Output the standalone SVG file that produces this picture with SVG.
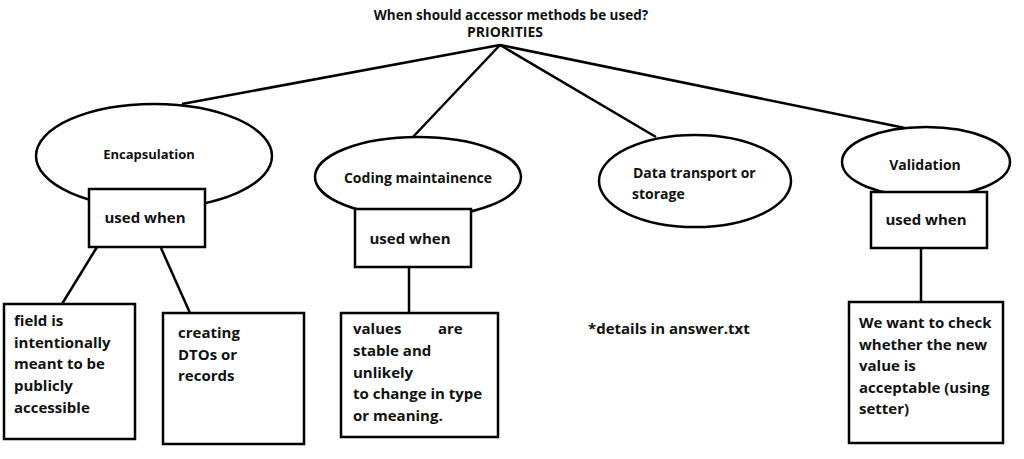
<svg xmlns="http://www.w3.org/2000/svg" width="1024" height="459" viewBox="0 0 1024 459">
<style>
.t{font-family:"Open Sans","Liberation Sans",sans-serif;font-weight:bold;fill:#111;}
.s{fill:#fff;stroke:#000;stroke-width:2.5;}
.c{stroke:#000;stroke-width:2.5;fill:none;}
</style>
<rect width="1024" height="459" fill="#fff"/>
<g id="title">
<text class="t" x="511" y="20" font-size="13.5" text-anchor="middle">When should accessor methods be used?</text>
<text class="t" x="505" y="37" font-size="14" text-anchor="middle">PRIORITIES</text>
</g>
<g id="connectors">
<line class="c" x1="500" y1="45" x2="182" y2="104"/>
<line class="c" x1="500" y1="45" x2="412" y2="138"/>
<line class="c" x1="500" y1="45" x2="656" y2="137"/>
<line class="c" x1="500" y1="45" x2="905" y2="128"/>
<line class="c" x1="97" y1="247" x2="62" y2="304"/>
<line class="c" x1="161" y1="248" x2="190" y2="313"/>
<line class="c" x1="409" y1="267" x2="409" y2="313"/>
<line class="c" x1="921" y1="248" x2="921" y2="302"/>
</g>
<g id="encapsulation">
<ellipse class="s" cx="154" cy="156" rx="118" ry="52"/>
<text class="t" x="149" y="159" font-size="13" text-anchor="middle">Encapsulation</text>
</g>
<g id="encap-used">
<rect class="s" x="89" y="189" width="116" height="58"/>
<text class="t" x="145" y="223" font-size="15" text-anchor="middle">used when</text>
</g>
<g id="coding">
<ellipse class="s" cx="418" cy="177" rx="103" ry="40"/>
<text class="t" x="418" y="183" font-size="14" text-anchor="middle">Coding maintainence</text>
</g>
<g id="coding-used">
<rect class="s" x="355" y="209" width="116" height="58"/>
<text class="t" x="410" y="244" font-size="15" text-anchor="middle">used when</text>
</g>
<g id="data">
<ellipse class="s" cx="695" cy="181" rx="96" ry="46"/>
<text class="t" x="633" y="178" font-size="14">Data transport or</text>
<text class="t" x="632" y="199" font-size="14">storage</text>
</g>
<g id="validation">
<ellipse class="s" cx="926" cy="162" rx="84" ry="35"/>
<text class="t" x="925" y="170" font-size="14" text-anchor="middle">Validation</text>
</g>
<g id="valid-used">
<rect class="s" x="871" y="192" width="116" height="56"/>
<text class="t" x="926" y="225" font-size="15" text-anchor="middle">used when</text>
</g>
<g id="field">
<rect class="s" x="4" y="304" width="131" height="135"/>
<text class="t" font-size="15"><tspan x="14" y="326">field is</tspan><tspan x="14" y="348">intentionally</tspan><tspan x="14" y="369">meant to be</tspan><tspan x="14" y="391">publicly</tspan><tspan x="14" y="413">accessible</tspan></text>
</g>
<g id="dtos">
<rect class="s" x="163" y="313" width="141" height="131"/>
<text class="t" font-size="15"><tspan x="178" y="338">creating</tspan><tspan x="178" y="360">DTOs or</tspan><tspan x="178" y="381">records</tspan></text>
</g>
<g id="values">
<rect class="s" x="341" y="313" width="157" height="124"/>
<text class="t" font-size="15"><tspan x="353" y="334">values</tspan><tspan x="438" y="334">are</tspan><tspan x="353" y="356">stable and</tspan><tspan x="353" y="378">unlikely</tspan><tspan x="353" y="399">to change in type</tspan><tspan x="353" y="421">or meaning.</tspan></text>
</g>
<g id="details">
<text class="t" x="588" y="334" font-size="15">*details in answer.txt</text>
</g>
<g id="check">
<rect class="s" x="849" y="302" width="154" height="141"/>
<text class="t" font-size="15"><tspan x="859" y="328">We want to check</tspan><tspan x="859" y="350">whether the new</tspan><tspan x="859" y="371">value is</tspan><tspan x="859" y="393">acceptable (using</tspan><tspan x="859" y="414">setter)</tspan></text>
</g>
</svg>
